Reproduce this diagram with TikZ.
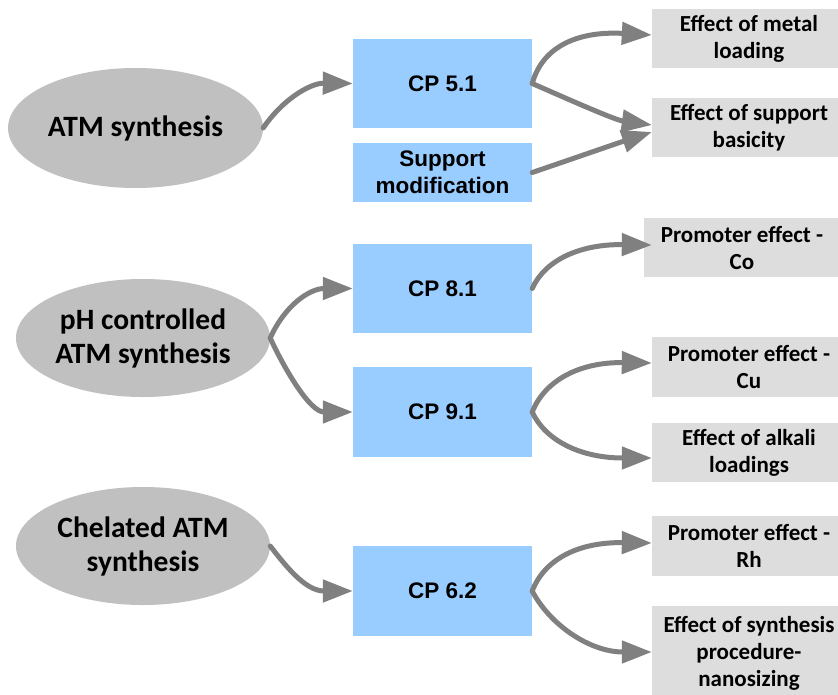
\documentclass[tikz,border=0pt]{standalone}
\usepackage{fontspec}
\setmainfont{Carlito}
\newfontfamily\arialfont{Liberation Sans}
\usetikzlibrary{arrows.meta,shapes.geometric}
\definecolor{ellgray}{HTML}{C0C0C0}
\definecolor{boxblue}{HTML}{99CCFF}
\definecolor{boxgray}{HTML}{DDDDDD}
\definecolor{arrgray}{HTML}{808080}
\begin{document}
\begin{tikzpicture}[x=1pt,y=-1pt,
  ell/.style={ellipse, fill=ellgray, inner sep=0pt, align=center,
    font=\bfseries\fontsize{29.5}{34}\selectfont},
  cpbox/.style={rectangle, fill=boxblue, inner sep=0pt, align=center,
    minimum width=179pt, font=\arialfont\bfseries\fontsize{22.5}{27}\selectfont},
  resbox/.style={rectangle, fill=boxgray, inner sep=0pt, align=center,
    minimum width=194pt, font=\bfseries\fontsize{23}{27}\selectfont},
  arr/.style={draw=arrgray, line width=5pt, line cap=round,
    -{Triangle[length=30pt 0,width=22pt 0]}}]
\useasboundingbox (0,0) rectangle (838,694);
\clip (0,0) rectangle (838,694);
\fill[white] (0,0) rectangle (838,694);

% ellipses
\node[ell, minimum width=255pt, minimum height=120pt] (e1) at (135.5,128) {ATM synthesis};
\node[ell, minimum width=254pt, minimum height=118pt] (e2) at (143,338) {pH controlled\\ATM synthesis};
\node[ell, minimum width=254pt, minimum height=118pt] (e3) at (143,546) {Chelated ATM\\synthesis};

% blue boxes
\node[cpbox, minimum height=89pt] (cp51) at (442.5,83.5) {CP 5.1};
\node[cpbox, minimum height=59pt] (sup) at (442.5,172.5) {Support\\modification};
\node[cpbox, minimum height=89pt] (cp81) at (442.5,288.5) {CP 8.1};
\node[cpbox, minimum height=90pt] (cp91) at (442.5,412) {CP 9.1};
\node[cpbox, minimum height=90pt] (cp62) at (442.5,591) {CP 6.2};

% result boxes
\node[resbox, minimum height=59pt] (met) at (749,38.5) {Effect of metal\\loading};
\node[resbox, minimum height=59pt] (bas) at (749,127.5) {Effect of support\\basicity};
\node[resbox, minimum height=59pt, minimum width=196pt] (co) at (742,247.5) {Promoter effect -\\Co};
\node[resbox, minimum height=60pt] (cu) at (749,367) {Promoter effect -\\Cu};
\node[resbox, minimum height=59pt] (alk) at (749,452.5) {Effect of alkali\\loadings};
\node[resbox, minimum height=60pt] (rh) at (749,546) {Promoter effect -\\Rh};
\node[resbox, minimum height=94pt] (nano) at (749,653) {Effect of synthesis\\procedure-\\nanosizing};

% arrows
\draw[arr] (e1.east) .. controls (282,100) and (310,83) .. (cp51.west);
\draw[arr] (cp51.east) .. controls (543,45) and (580,31) .. ([yshift=3.5pt]met.west);
\draw[arr] (cp51.east) .. controls (570,100) and (615,120) .. ([yshift=2.5pt]bas.west);
\draw[arr] (sup.east) .. controls (572,159) and (612,145) .. ([yshift=-4.5pt]bas.west);
\draw[arr] (e2.east) .. controls (285,305) and (310,288.5) .. (cp81.west);
\draw[arr] (e2.east) .. controls (285,370) and (310,412) .. (cp91.west);
\draw[arr] (cp81.east) .. controls (545,260) and (580,244) .. ([xshift=8pt,yshift=2.5pt]co.west);
\draw[arr] (cp91.east) .. controls (545,380) and (580,362) .. ([yshift=4pt]cu.west);
\draw[arr] (cp91.east) .. controls (545,440) and (580,458) .. ([yshift=-5.5pt]alk.west);
\draw[arr] (e3.east) .. controls (285,565) and (305,591) .. (cp62.west);
\draw[arr] (cp62.east) .. controls (545,558) and (580,542) .. ([yshift=3pt]rh.west);
\draw[arr] (cp62.east) .. controls (550,625) and (590,652) .. ([yshift=1pt]nano.west);
\end{tikzpicture}
\end{document}
